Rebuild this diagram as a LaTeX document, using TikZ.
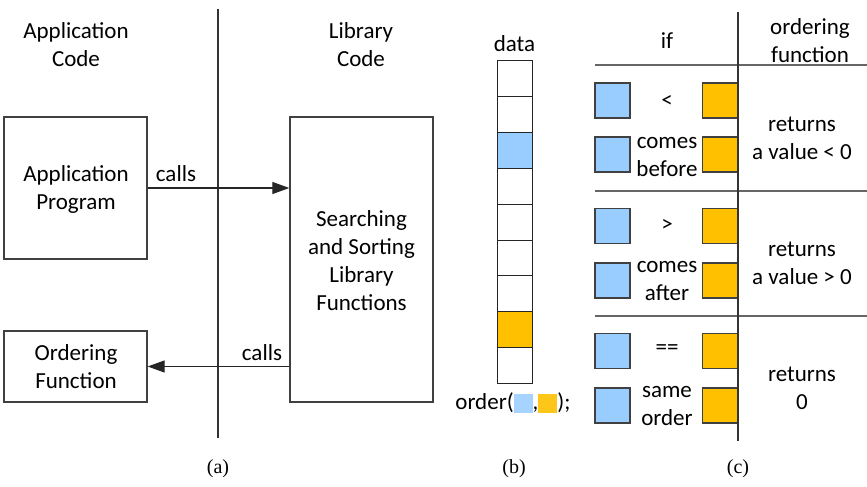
\documentclass[tikz,border=0pt]{standalone}
\usepackage{fontspec}
\setmainfont{Carlito}
\newfontfamily\capfont{Liberation Serif}
\usetikzlibrary{arrows.meta}
\definecolor{lblue}{HTML}{99CCFF}
\definecolor{orng}{HTML}{FFC000}
\definecolor{lbluef}{HTML}{A6D3FF}
\definecolor{orngf}{HTML}{FFC61A}
\definecolor{edge}{HTML}{404040}
\begin{document}
\begin{tikzpicture}[x=1pt,y=-1pt,
  txt/.style={font=\fontsize{23}{28}\selectfont, align=center, inner sep=0pt, text=black},
  box/.style={draw=edge, line width=1.3pt, inner sep=0pt},
  cell/.style={draw=black!85, line width=1pt, minimum width=35pt, minimum height=35.8pt, inner sep=0pt},
  sqb/.style={draw=edge, line width=1.3pt, fill=lblue, minimum size=35pt, inner sep=0pt},
  sqo/.style={draw=edge, line width=1.3pt, fill=orng, minimum size=35pt, inner sep=0pt},
  vline/.style={line width=1.2pt, draw=black!80},
  hrule/.style={line width=1.6pt, draw=black!60},
  captxt/.style={font=\capfont\fontsize{20}{24}\selectfont, inner sep=0pt},
  arr/.style={line width=1.2pt, draw=black!85, -{Triangle[length=17pt,width=12pt]}}
]
\useasboundingbox (0,0) rectangle (867,487);

% ---------- (a) ----------
\coordinate (dtop) at (218,9);
\coordinate (dbot) at (218,438);
\draw[vline] (dtop) -- (dbot);

\node[txt] (appcode) at (76,45) {Application\\Code};
\node[txt] (libcode) at (361,45) {Library\\Code};

\node[box, minimum width=143pt, minimum height=142pt] (app) at (75.5,188) {};
\node[txt] (apptxt) at (76,189) {Application\\Program};
\node[box, minimum width=143pt, minimum height=285pt] (lib) at (361.5,259.5) {};
\node[txt] (libtxt) at (361.5,260.5) {Searching\\and Sorting\\Library\\Functions};
\node[box, minimum width=143pt, minimum height=71pt] (ord) at (75.5,366.5) {};
\node[txt] (ordtxt) at (76,367) {Ordering\\Function};

\draw[arr] (app.east) -- (app.east -| lib.west);
\node[txt] (calls1) at (176,174) {calls};
\draw[arr] (lib.west |- ord.east) -- (ord.east);
\node[txt] (calls2) at (262,353) {calls};

\node[captxt] (capa) at (218,469) {(a)};

% ---------- (b) ----------
\node[txt] (data) at (514.5,44) {data};
\foreach \i in {0,...,8} {
  \node[cell] (c\i) at (514.5,{61+35.8*\i+17.9}) {};
}
\node[cell, fill=lblue] at (c2) {};
\node[cell, fill=orng] at (c7) {};
\node[txt] (ordercall) at (513,403) {order(\textcolor{lbluef}{\rule[-3pt]{19pt}{19pt}},\textcolor{orngf}{\rule[-3pt]{19pt}{19pt}});};
\node[captxt] (capb) at (514,469) {(b)};

% ---------- (c) ----------
\node[txt] (iftxt) at (667,41) {if};
\node[txt] (ordfun) at (810,41) {ordering\\function};
\coordinate (vtop) at (738,12);
\coordinate (vbot) at (738,441);
\coordinate (h1l) at (595,65);  \coordinate (h1r) at (867,65);
\coordinate (h2l) at (595,191); \coordinate (h2r) at (867,191);
\coordinate (h3l) at (595,316); \coordinate (h3r) at (867,316);
\draw[hrule] (h1l) -- (h1r);
\draw[hrule] (h2l) -- (h2r);
\draw[hrule] (h3l) -- (h3r);

\foreach \y [count=\k] in {100.5,154.5,226,280.5,351,405.5} {
  \node[sqb] (b\k) at (612.5,\y) {};
  \node[sqo] (o\k) at (720,\y) {};
}
\draw[vline] (vtop) -- (vbot);

\node[txt] (lt) at (667,101) {<};
\node[txt] (cb) at (667,157) {comes\\before};
\node[txt] (gt) at (667,225) {>};
\node[txt] (ca) at (667,281) {comes\\after};
\node[txt] (eq) at (667,350) {==};
\node[txt] (so) at (667,406) {same\\order};

\node[txt] (r1) at (802,138.5) {returns\\a value < 0};
\node[txt] (r2) at (802,263) {returns\\a value > 0};
\node[txt] (r3) at (802,388.5) {returns\\0};

\node[captxt] (capc) at (738,469) {(c)};
\end{tikzpicture}
\end{document}
